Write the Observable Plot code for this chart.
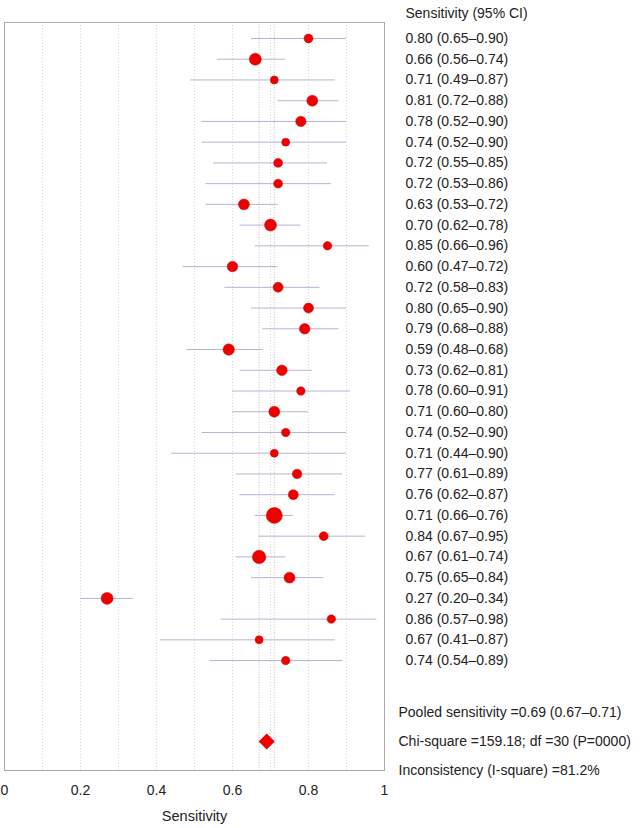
<!DOCTYPE html>
<html><head><meta charset="utf-8">
<script src="https://cdn.jsdelivr.net/npm/d3@7"></script>
<script src="https://cdn.jsdelivr.net/npm/@observablehq/plot@0.6"></script>
<style>body{margin:0;background:#fff}#chart svg{display:block}</style>
</head><body><div id="chart"></div>
<script>
// Study-level sensitivity estimates (top to bottom)
const sens = [0.80,0.66,0.71,0.81,0.78,0.74,0.72,0.72,0.63,0.70,0.85,0.60,0.72,0.80,0.79,0.59,0.73,0.78,0.71,0.74,0.71,0.77,0.76,0.71,0.84,0.67,0.75,0.27,0.86,0.67,0.74];
const lower = [0.65,0.56,0.49,0.72,0.52,0.52,0.55,0.53,0.53,0.62,0.66,0.47,0.58,0.65,0.68,0.48,0.62,0.60,0.60,0.52,0.44,0.61,0.62,0.66,0.67,0.61,0.65,0.20,0.57,0.41,0.54];
const upper = [0.90,0.74,0.87,0.88,0.90,0.90,0.85,0.86,0.72,0.78,0.96,0.72,0.83,0.90,0.88,0.68,0.81,0.91,0.80,0.90,0.90,0.89,0.87,0.76,0.95,0.74,0.84,0.34,0.98,0.87,0.89];
// relative study weights (marker area)
const weights = [20,36,16,30,27,16,20,20,30,36,18,28,25,25,28,32,28,18,30,18,16,23,25,64,20,45,30,36,18,16,18];
// pooled estimate
const pooledSens = 0.69, pooledLo = 0.67, pooledHi = 0.71;
const statsText = ["Pooled sensitivity =0.69 (0.67–0.71)", "Chi-square =159.18; df =30 (P=0000)", "Inconsistency (I-square) =81.2%"];
const headerText = "Sensitivity (95% CI)";
const xTicks = [0, 0.2, 0.4, 0.6, 0.8, 1];
const gridTicks = [0.1,0.2,0.3,0.4,0.5,0.6,0.7,0.8,0.9];
const xLabel = "Sensitivity";

const f2 = d3.format(".2f");
const rows = sens.map((s, i) => ({i, s, lo: lower[i], hi: upper[i], w: weights[i],
  label: `${f2(s)} (${f2(lower[i])}–${f2(upper[i])})`}));
const n = rows.length;
const pooledY = n + 2.9;
const stats = statsText.map((t, k) => ({t, y: n + 1.5 + k * 1.4}));

const font = "'Liberation Sans', Arial, Helvetica, sans-serif";
const chart = Plot.plot({
  width: 640, height: 828,
  marginLeft: 4, marginRight: 256, marginTop: 22, marginBottom: 58,
  style: {fontFamily: font, fontSize: "14px", color: "#222", background: "#fff", overflow: "visible"},
  x: {domain: [0, 1]},
  y: {domain: [-0.77, n + 4.3], reverse: true, axis: null},
  r: {type: "sqrt", domain: [0, 64], range: [0, 8]},
  marks: [
    Plot.ruleX(gridTicks, {stroke: "#d8d8d8", strokeDasharray: "1,2", strokeWidth: 1}),
    Plot.ruleX([pooledLo, pooledHi], {stroke: "#d9b8b8", strokeDasharray: "1,1.5", strokeWidth: 1}),
    Plot.frame({stroke: "#aaa"}),
    Plot.axisX({ticks: xTicks, tickFormat: d => d3.format("")(d), tickSize: 0, tickPadding: 15,
      fontSize: 14, fill: "#222"}),
    Plot.axisX({ticks: [], label: xLabel, labelAnchor: "center", labelArrow: "none", labelOffset: 50,
      fontSize: 14.5, fill: "#222"}),
    Plot.ruleY(rows, {y: "i", x1: "lo", x2: "hi", stroke: "#b4b4d4", strokeWidth: 1}),
    Plot.dot(rows, {x: "s", y: "i", r: "w", fill: "#ee0000", stroke: "#d00000", strokeWidth: 0.5}),
    Plot.dot([pooledSens], {x: d => d, y: () => pooledY, symbol: "diamond2", r: 6.3, fill: "#ee0000", stroke: "#ee0000"}),
    Plot.text(rows, {x: () => 1, y: "i", text: "label", textAnchor: "start", dx: 21, fill: "#222", fontSize: 14}),
    Plot.text([headerText], {x: () => 1, y: () => -1.22, text: d => d, textAnchor: "start", dx: 21, fill: "#222", fontSize: 14}),
    Plot.text(stats, {x: () => 1, y: "y", text: "t", textAnchor: "start", dx: 14, fill: "#222", fontSize: 14})
  ]
});
document.getElementById("chart").append(chart);
</script></body></html>
